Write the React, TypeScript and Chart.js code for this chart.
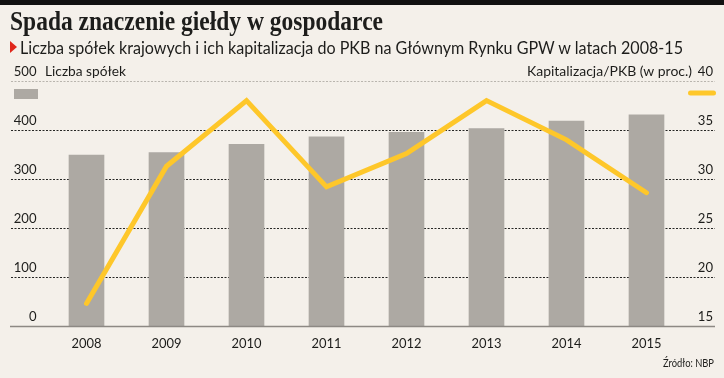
import React, { useEffect, useLayoutEffect, useRef } from 'react';
import { Chart, registerables } from 'chart.js';

Chart.register(...registerables);

const years = ['2008', '2009', '2010', '2011', '2012', '2013', '2014', '2015'];
const companies = [349, 354, 371, 386, 395, 403, 418, 431];
const capToGdp = [17.3, 31.3, 38.0, 29.2, 32.6, 38.0, 34.0, 28.6];
const leftTicks = [0, 100, 200, 300, 400, 500];
const rightTicks = [15, 20, 25, 30, 35, 40];

const titleText = 'Spada znaczenie giełdy w gospodarce';
const subtitleText = 'Liczba spółek krajowych i ich kapitalizacja do PKB na Głównym Rynku GPW w latach 2008-15';
const leftAxisTitle = 'Liczba spółek';
const rightAxisTitle = 'Kapitalizacja/PKB (w proc.)';
const sourceText = 'Źródło: NBP';

const BG = '#F4F0EA';
const BAR = '#ADA9A3';
const LINE = '#FEC72A';
const INK = '#1d1d1b';
const LABEL_FONT = '"Lato", "Open Sans", sans-serif';

function drawFit(ctx: CanvasRenderingContext2D, text: string, x: number, y: number, align: 'left' | 'right', width: number) {
  const w = ctx.measureText(text).width;
  const s = w > 0 ? width / w : 1;
  ctx.save();
  ctx.translate(x, y);
  ctx.scale(s, 1);
  ctx.textAlign = align;
  ctx.fillText(text, 0, 0);
  ctx.restore();
}

const decorPlugin = {
  id: 'decor',
  beforeDatasetsDraw(chart: any) {
    const ctx: CanvasRenderingContext2D = chart.ctx;
    const y = chart.scales.y;
    const y2 = chart.scales.y2;
    const x = chart.scales.x;
    ctx.save();
    leftTicks.forEach((v) => {
      if (v === 0) return;
      const py = Math.round(y.getPixelForValue(v)) + 0.5;
      ctx.strokeStyle = v === 500 ? '#b9b5ae' : '#262624';
      ctx.lineWidth = 1;
      ctx.setLineDash([2, 1.5]);
      ctx.beginPath();
      ctx.moveTo(11, py);
      ctx.lineTo(715, py);
      ctx.stroke();
    });
    ctx.setLineDash([]);
    ctx.fillStyle = INK;
    ctx.textBaseline = 'alphabetic';
    ctx.font = `14px ${LABEL_FONT}`;
    leftTicks.forEach((v) => {
      const py = y.getPixelForValue(v);
      ctx.textAlign = 'right';
      drawFit(ctx, String(v), 36.5, py - 5.5, 'right', String(v).length * 7.6);
    });
    rightTicks.forEach((v) => {
      const py = y2.getPixelForValue(v);
      drawFit(ctx, String(v), 713, py - 5.5, 'right', String(v).length * 7.6);
    });
    const topY = y.getPixelForValue(500) - 5.5;
    drawFit(ctx, leftAxisTitle, 45, topY, 'left', 81);
    drawFit(ctx, rightAxisTitle, 692, topY, 'right', 165);
    years.forEach((yr, i) => {
      ctx.textAlign = 'center';
      const px = x.getPixelForValue(i);
      drawFit(ctx, yr, px - 15, y.getPixelForValue(0) + 22, 'left', 30);
    });
    ctx.fillStyle = BAR;
    ctx.fillRect(14, 89, 24, 10);
    ctx.strokeStyle = LINE;
    ctx.lineWidth = 5;
    ctx.lineCap = 'round';
    ctx.beginPath();
    ctx.moveTo(690.5, 93);
    ctx.lineTo(713.5, 93);
    ctx.stroke();
    ctx.restore();
  },
  afterDatasetsDraw(chart: any) {
    const ctx: CanvasRenderingContext2D = chart.ctx;
    const y = chart.scales.y;
    ctx.save();
    const py = y.getPixelForValue(0) + 0.5;
    ctx.strokeStyle = '#8d8984';
    ctx.lineWidth = 1.3;
    ctx.beginPath();
    ctx.moveTo(10, py);
    ctx.lineTo(715, py);
    ctx.stroke();
    ctx.restore();
  },
};

function FitText(props: { text: string; left: number; top: number; width: number; style: React.CSSProperties }) {
  const ref = useRef<HTMLSpanElement>(null);
  useLayoutEffect(() => {
    const el = ref.current;
    if (!el) return;
    el.style.transform = 'none';
    const w = el.getBoundingClientRect().width;
    if (w > 0) el.style.transform = `scaleX(${props.width / w})`;
  }, [props.text, props.width]);
  return (
    <span
      ref={ref}
      style={{
        position: 'absolute',
        left: props.left,
        top: props.top,
        whiteSpace: 'nowrap',
        display: 'inline-block',
        transformOrigin: 'left top',
        lineHeight: 1,
        ...props.style,
      }}
    >
      {props.text}
    </span>
  );
}

export default function App() {
  const canvasRef = useRef<HTMLCanvasElement>(null);

  useEffect(() => {
    const canvas = canvasRef.current;
    if (!canvas) return;
    const chart = new Chart(canvas, {
      type: 'bar',
      data: {
        labels: years,
        datasets: [
          {
            type: 'line',
            label: 'Kapitalizacja/PKB',
            data: capToGdp,
            yAxisID: 'y2',
            borderColor: LINE,
            borderWidth: 5,
            pointRadius: 0,
            tension: 0,
            borderCapStyle: 'round',
            borderJoinStyle: 'miter',
            fill: false,
            order: 0,
            clip: false,
          } as any,
          {
            type: 'bar',
            label: 'Liczba spółek',
            data: companies,
            yAxisID: 'y',
            backgroundColor: BAR,
            barThickness: 35,
            order: 1,
          } as any,
        ],
      },
      options: {
        responsive: false,
        animation: false,
        events: [],
        layout: { padding: { left: 46.5, right: 37.5, top: 81, bottom: 52 } },
        plugins: { legend: { display: false }, tooltip: { enabled: false }, title: { display: false } },
        scales: {
          x: { display: false, offset: true, grid: { display: false } },
          y: { display: false, min: 0, max: 500 },
          y2: { display: false, min: 15, max: 40, position: 'right' },
        },
      },
      plugins: [decorPlugin],
    });
    return () => chart.destroy();
  }, []);

  return (
    <div style={{ position: 'fixed', left: 0, top: 0, width: 724, height: 378, background: BG, overflow: 'hidden' }}>
      <div style={{ position: 'absolute', left: 0, top: 0, width: 724, height: 5, background: '#111' }} />
      <canvas ref={canvasRef} width={724} height={378} style={{ position: 'absolute', left: 0, top: 0, width: 724, height: 378 }} />
      <FitText
        text={titleText}
        left={10}
        top={7}
        width={373}
        style={{ fontFamily: '"Liberation Serif", "DejaVu Serif", serif', fontWeight: 700, fontSize: 28, color: INK }}
      />
      <div
        style={{
          position: 'absolute',
          left: 10,
          top: 41,
          width: 0,
          height: 0,
          borderTop: '6px solid transparent',
          borderBottom: '6px solid transparent',
          borderLeft: '7px solid #E0271B',
        }}
      />
      <FitText
        text={subtitleText}
        left={20}
        top={38}
        width={663}
        style={{ fontFamily: LABEL_FONT, fontSize: 18, color: INK }}
      />
      <FitText
        text={sourceText}
        left={663}
        top={357}
        width={51}
        style={{ fontFamily: LABEL_FONT, fontSize: 11, color: INK }}
      />
    </div>
  );
}
